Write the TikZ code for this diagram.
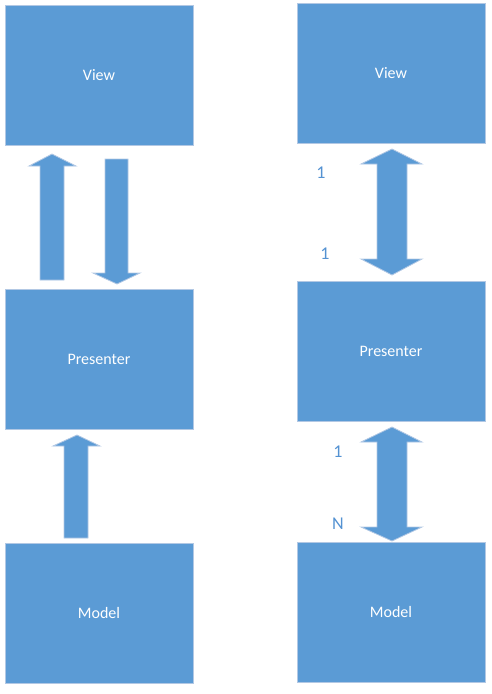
\documentclass[tikz,border=0pt]{standalone}
\usepackage{fontspec}
\setmainfont{Carlito}
\definecolor{boxblue}{RGB}{91,155,213}
\definecolor{edgeblue}{RGB}{178,200,228}
\definecolor{labelblue}{RGB}{84,146,210}

\tikzset{every picture/.style={line width=0.75pt}}
\tikzset{
  mvpbox/.style={fill=boxblue,draw=edgeblue,line width=0.6pt,text=white,minimum width=141pt,minimum height=105pt,inner sep=0pt,font=\fontsize{12}{14}\selectfont},
  blockarrow/.style={fill=boxblue,draw=edgeblue,line width=0.6pt},
  mult/.style={text=labelblue,inner sep=0pt,font=\fontsize{13.5}{16}\selectfont}
}

\begin{document}
\begin{tikzpicture}[x=0.75pt,y=0.75pt,yscale=-1,xscale=1]
    \useasboundingbox (0,0) rectangle (492,694);

    %Shape: Rectangle [left column]
    \node[mvpbox] (viewA) at (99,75.5) {View};
    \node[mvpbox] (presA) at (99,359.5) {Presenter};
    \node[mvpbox] (modelA) at (99,613) {Model};

    %Shape: Rectangle [right column]
    \node[mvpbox] (viewB) at (391,73.5) {View};
    \node[mvpbox] (presB) at (391,351) {Presenter};
    \node[mvpbox] (modelB) at (391,612) {Model};

    %Shape: Up Arrow [Presenter to View]
    \draw[blockarrow] (52,154) -- (76,166) -- (64,166) -- (64,280) -- (40,280) -- (40,166) -- (29,166) -- cycle ;
    %Shape: Down Arrow [View to Presenter]
    \draw[blockarrow] (105,159) -- (128,159) -- (128,273) -- (140,273) -- (117,284) -- (93,273) -- (105,273) -- cycle ;
    %Shape: Up Arrow [Model to Presenter]
    \draw[blockarrow] (77,435) -- (100,446) -- (88,446) -- (88,538) -- (64,538) -- (64,446) -- (53,446) -- cycle ;

    %Shape: Up Down Arrow [View - Presenter]
    \draw[blockarrow] (392,149) -- (422,164) -- (407,164) -- (407,259) -- (422,259) -- (392,275) -- (361,259) -- (377,259) -- (377,164) -- (361,164) -- cycle ;
    %Shape: Up Down Arrow [Presenter - Model]
    \draw[blockarrow] (392,427) -- (422,442) -- (407,442) -- (407,527) -- (422,527) -- (392,541) -- (361,527) -- (377,527) -- (377,442) -- (361,442) -- cycle ;

    % multiplicities
    \node[mult] (oneVB) at (321,173) {1};
    \node[mult] (onePB) at (325,254) {1};
    \node[mult] (onePM) at (338,452) {1};
    \node[mult] (manyM) at (338,524) {N};

\end{tikzpicture}
\end{document}
